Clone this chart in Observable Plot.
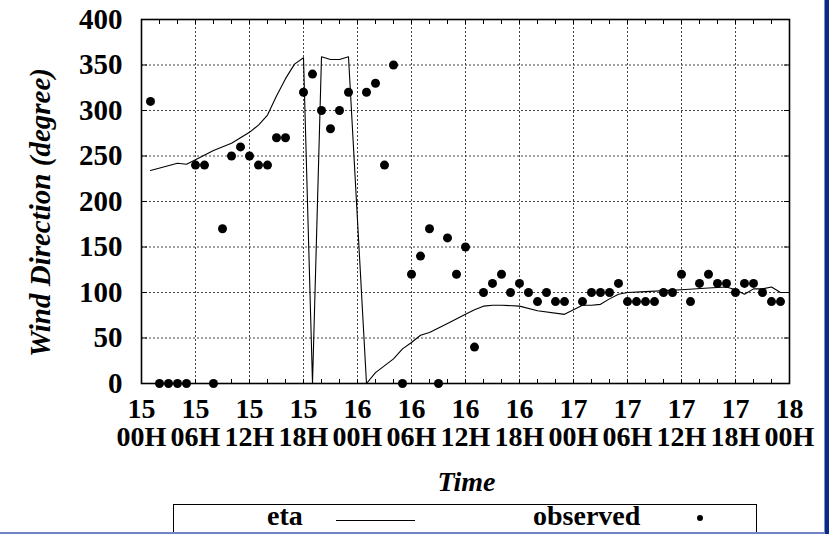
<!DOCTYPE html>
<html><head><meta charset="utf-8">
<script src="https://cdn.jsdelivr.net/npm/d3@7"></script>
<script src="https://cdn.jsdelivr.net/npm/@observablehq/plot@0.6"></script>
<style>
html,body{margin:0;padding:0;background:#fff;}
body{width:829px;height:534px;overflow:hidden;position:relative;font-family:"Liberation Serif","Times New Roman",serif;}
#chart{position:absolute;left:0;top:0;}
#legend{position:absolute;left:173px;top:504px;width:582px;height:40px;border:1.5px solid #000;background:#fff;font-size:28px;font-weight:bold;color:#000;}
#legend span{position:absolute;top:-5px;}
#legend .line{position:absolute;top:15px;left:162px;width:79px;height:0;border-top:1.2px solid #000;}
#legend .dot{position:absolute;top:10px;left:523px;width:6px;height:6px;border-radius:50%;background:#000;}
#barRight{position:absolute;left:824px;top:0;width:5px;height:534px;background:#0b2a88;border-left:1px solid #7d8fc8;}
#barBottom{position:absolute;left:0;top:532px;width:829px;height:2px;background:#6f84c4;}
</style></head><body>
<div id="chart"></div>
<div id="legend"><span style="left:93px">eta</span><div class="line"></div><span style="left:359px">observed</span><div class="dot"></div></div>
<div id="barBottom"></div>
<div id="barRight"></div>
<script>
// observed wind direction (hours since 15 00H, degrees)
const obsHours  = [1,2,3,4,5,6,7,8,9,10,11,12,13,14,15,16,18,19,20,21,22,23,25,26,27,28,29,30,31,32,33,34,35,36,37,38,39,40,41,42,43,44,45,46,47,49,50,51,52,53,54,55,56,57,58,59,60,61,62,63,64,65,66,67,68,69,70,71];
const obsValues = [310,0,0,0,0,240,240,0,170,250,260,250,240,240,270,270,320,340,300,280,300,320,320,330,240,350,0,120,140,170,0,160,120,150,40,100,110,120,100,110,100,90,100,90,90,90,100,100,100,110,90,90,90,90,100,100,120,90,110,120,110,110,100,110,110,100,90,90];
// eta model
const etaHours  = [1,4,5,6,8,10,11,12,13,14,15,16,17,18,19,20,21,22,23,25,26,28,29,30,31,32,34,36,37,38,39,40,42,44,47,48,49,50,51,52,53,54,56,60,63,65,66,67,68,69,70,71,72];
const etaValues = [234,242,241,246,256,264,270,276,284,295,316,335,351,358,0,359,356,356,359,0,12,27,38,45,53,56,66,76,81,85,86,86,85,80,76,81,86,86,87,93,98,100,101,103,105,106,103,98,104,104,106,100,100];
// axis ticks
const tickHours   = [0,6,12,18,24,30,36,42,48,54,60,66,72];
const dayLabels   = ["15","15","15","15","16","16","16","16","17","17","17","17","18"];
const hourLabels  = ["00H","06H","12H","18H","00H","06H","12H","18H","00H","06H","12H","18H","00H"];
const minorHours  = d3.range(0, 73, 2);
const yTicks      = [0,50,100,150,200,250,300,350,400];

const obs = obsHours.map((h,i)=>({h, v: obsValues[i]}));
const eta = etaHours.map((h,i)=>({h, v: etaValues[i]}));
const tickText = new Map(tickHours.map((h,i)=>[h, dayLabels[i] + "\n" + hourLabels[i]]));

const grid = {stroke:"#444", strokeOpacity:1, strokeWidth:1, strokeDasharray:"2,2"};
const plot = Plot.plot({
  width: 829, height: 534,
  marginLeft: 141, marginRight: 40, marginTop: 19, marginBottom: 151,
  style: {fontFamily: '"Liberation Serif","Times New Roman",serif', background: "transparent", color: "#000", overflow: "visible"},
  x: {domain: [0, 72]},
  y: {domain: [0, 400]},
  marks: [
    Plot.gridX(tickHours.slice(1, -1), grid),
    Plot.gridY(yTicks.slice(1, -1), grid),
    Plot.axisX(minorHours, {anchor: "bottom", tickSize: -4, tickFormat: () => "", label: null, strokeWidth: 1}),
    Plot.axisX(minorHours, {anchor: "top", tickSize: -4, tickFormat: () => "", label: null, strokeWidth: 1}),
    Plot.axisY(yTicks, {anchor: "left", tickSize: -6, tickFormat: () => "", label: null}),
    Plot.axisY(yTicks, {anchor: "right", tickSize: -6, tickFormat: () => "", label: null}),
    Plot.axisX(tickHours, {anchor: "bottom", tickSize: 0, tickPadding: 15, fontSize: 28, fontWeight: "bold", lineHeight: 1, tickFormat: d => tickText.get(d), label: null}),
    Plot.axisY(yTicks, {anchor: "left", tickSize: 0, tickPadding: 19, fontSize: 29, fontWeight: "bold", tickFormat: d => String(d), label: null}),
    Plot.frame({stroke: "#000", strokeWidth: 1.6}),
    Plot.line(eta, {x: "h", y: "v", stroke: "#000", strokeWidth: 1.1}),
    Plot.dot(obs, {x: "h", y: "v", r: 4.5, fill: "#000", stroke: "none"}),
    Plot.text(["Wind Direction (degree)"], {frameAnchor: "left", textAnchor: "middle", dx: -101, dy: 11, rotate: -90, fontSize: 29, fontWeight: "bold", fontStyle: "italic", fill: "#000"}),
    Plot.text(["Time"], {frameAnchor: "bottom", dx: 1, dy: 107, fontSize: 28, fontWeight: "bold", fontStyle: "italic", fill: "#000"})
  ]
});
document.getElementById("chart").appendChild(plot);
</script>
</body></html>
